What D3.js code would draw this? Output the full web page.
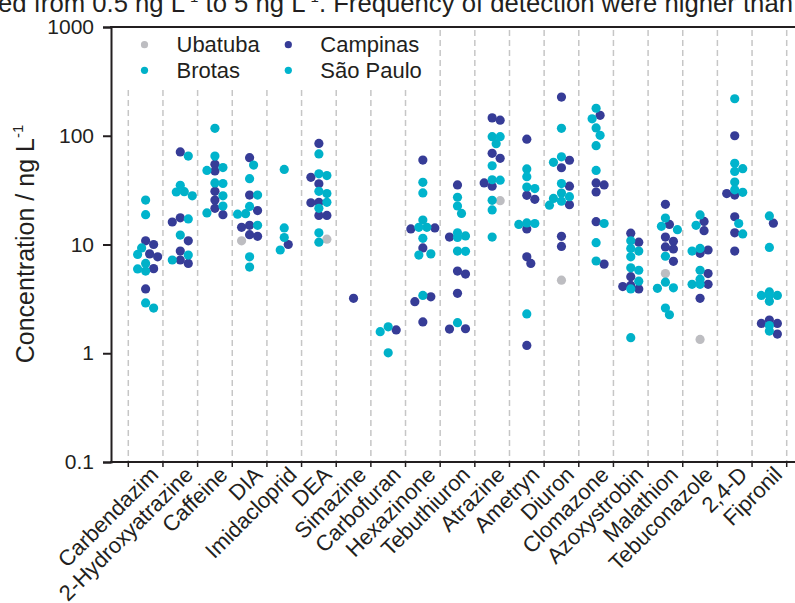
<!DOCTYPE html>
<html>
<head>
<meta charset="utf-8">
<script src="https://cdn.jsdelivr.net/npm/d3@7/dist/d3.min.js"></script>
<style>
  body { margin: 0; background: #fff; }
  svg { display: block; font-family: "Liberation Sans", Arial, sans-serif; }
</style>
</head>
<body>
<svg id="chart" width="795" height="603"></svg>
<script>
const compounds = ['Carbendazim', '2-Hydroxyatrazine', 'Caffeine', 'DIA', 'Imidacloprid', 'DEA', 'Simazine',
  'Carbofuran', 'Hexazinone', 'Tebuthiuron', 'Atrazine', 'Ametryn', 'Diuron', 'Clomazone', 'Azoxystrobin',
  'Malathion', 'Tebuconazole', '2,4-D', 'Fipronil'];

const yTicks = [0.1, 1, 10, 100, 1000];

// one inner list per compound, ng/L
const ubatuba = [[], [], [], [10.8], [], [11.2], [], [], [], [], [25.3], [], [4.7], [], [], [5.4], [1.34], [], []];

const campinas = [
  [10.8, 10.0, 8.2, 7.7, 6.0, 3.9],
  [71, 17.6, 16.1, 10.8, 8.7, 7.2, 6.7],
  [54.6, 47.4, 30.8, 25.6, 21.5, 18.8],
  [62.8, 28.5, 20.5, 15.0, 14.4, 12.3, 11.9],
  [10.0],
  [85, 41.5, 36.2, 24.4, 24.2, 18.5, 18.5],
  [3.2],
  [1.64],
  [59.8, 14.2, 13.9, 9.3, 3.3, 2.98, 1.94],
  [35.3, 11.7, 5.7, 5.35, 3.56, 1.68, 1.67],
  [146, 139, 69, 62, 36.8, 34.4],
  [93, 28.3, 26, 13.9, 7.7, 6.7, 1.18],
  [227, 59.5, 50.8, 34.4, 23.2, 11.9, 9.6],
  [154, 36.8, 35.3, 30.4, 16.2, 6.6],
  [12.7, 10.5, 5.06, 4.2, 4.1, 3.9],
  [23.4, 15.3, 11.7, 10.7, 9.5, 9.1, 7.0],
  [16.3, 13.4, 8.9, 8.3, 5.4, 4.3, 3.2],
  [100, 29.4, 28.5, 18, 12.8, 8.7],
  [15.7, 2.02, 1.88, 1.88, 1.5]
];

const brotas = [
  [25.6, 9.3, 6.7, 5.7, 2.6],
  [65, 30.6, 28, 12.2, 7.2],
  [117, 51, 36.8, 28, 19.5],
  [53.8, 28.5, 19.2, 15.0, 6.2],
  [49, 11.6],
  [68, 43, 29.4, 21.5, 10.5],
  [],
  [1.75, 1.01],
  [37.3, 16.8, 14.4, 8.2, 3.4],
  [27.2, 19.3, 12.0, 8.7, 1.91],
  [98, 84.5, 39.4, 25.5, 11.7],
  [49.5, 33.8, 15.8, 15.3],
  [117, 57, 29.7, 26.5, 23],
  [179, 118, 81, 15.6, 7.05],
  [10.8, 8.7, 6.1, 4.6, 1.39],
  [17.5, 13.7, 4.5, 3.95, 2.26],
  [18.7, 9.2, 5.8, 4.3],
  [219, 49.8, 37.5, 30.2, 12.5],
  [18.3, 3.66, 3.4, 3.0, 1.6]
];

const saoPaulo = [
  [18.8, 8.1, 5.96, 2.9],
  [35, 30.4, 17.2, 8.0],
  [65, 48, 36.4, 22.6],
  [40.3, 22.4, 19.0, 7.7],
  [14.2, 8.9],
  [44.7, 30.8, 24.4, 12.8],
  [],
  [1.58],
  [29.8, 14.4, 11.4, 8.0],
  [22.6, 12.8, 11.6, 8.65],
  [98, 53, 39, 20.8],
  [42, 32.7, 15.6, 2.3],
  [64, 36.3, 27.5, 25],
  [143, 101, 48, 10.4],
  [9.2, 7.7, 5.8, 3.9],
  [14.7, 7.8, 4.0, 2.6],
  [15.0, 8.7, 4.8, 4.3],
  [55.8, 47, 31.8, 15.6],
  [9.4, 3.4, 3.4, 1.8]
];

const series = [
  { name: 'Ubatuba', values: ubatuba, color: '#bdbdc1' },
  { name: 'Campinas', values: campinas, color: '#363c97' },
  { name: 'Brotas', values: brotas, color: '#00b1c8' },
  { name: 'São Paulo', values: saoPaulo, color: '#00b4cd' }
];

const ink = '#231f20';
const svg = d3.select('#chart');

const x = d3.scaleBand().domain(compounds).range([128.3, 786.7]).padding(0);
const y = d3.scaleLog().domain([0.1, 1000]).range([462, 27]);

// text of the page above the figure, cut by the crop
const pageText = svg.append('text')
  .attr('x', -2).attr('y', 12)
  .attr('font-size', 25.7).attr('fill', ink);
pageText.append('tspan').text('ed from 0.5 ng L');
pageText.append('tspan').attr('font-size', 15).attr('dy', -10).text('-1');
pageText.append('tspan').attr('dy', 10).text(' to 5 ng L');
pageText.append('tspan').attr('font-size', 15).attr('dy', -10).text('-1');
pageText.append('tspan').attr('dy', 10).text('. Frequency of detection were higher than');

// dashed separators between compounds
const bounds = compounds.map(c => x(c)).concat([x.range()[1]]);
svg.append('g').selectAll('line').data(bounds).join('line')
  .attr('x1', d => d).attr('x2', d => d)
  .attr('y1', 30).attr('y2', 462)
  .attr('stroke', '#c6c6c6').attr('stroke-width', 1.5)
  .attr('stroke-dasharray', '6,4');

// legend (white box hides the separators behind it)
svg.append('rect').attr('x', 113).attr('y', 29).attr('width', 318).attr('height', 57).attr('fill', '#fff');
const legendPos = [[144.5, 44.7], [288.3, 44.7], [144.5, 70.3], [288.3, 70.3]];
[series[0], series[1], series[2], series[3]].forEach((s, i) => {
  const [lx, ly] = legendPos[i];
  svg.append('circle').attr('cx', lx).attr('cy', ly).attr('r', 3.6).attr('fill', s.color);
  svg.append('text').attr('x', lx + 32).attr('y', ly + 7.5)
    .attr('font-size', 22).attr('fill', ink).text(s.name);
});

// simple dodge so points of one column don't sit on top of each other
const dodge = (ys, minDist, step, maxOff) => {
  const order = ys.map((v, i) => i).sort((a, b) => ys[a] - ys[b]);
  const placed = [];
  const offs = new Array(ys.length).fill(0);
  order.forEach(i => {
    for (let k = 0; ; k++) {
      const off = k === 0 ? 0 : (k % 2 ? 1 : -1) * Math.ceil(k / 2) * step;
      if (Math.abs(off) > maxOff) break;
      if (placed.every(p => Math.hypot(p.x - off, p.y - ys[i]) >= minDist)) {
        offs[i] = off;
        placed.push({ x: off, y: ys[i] });
        break;
      }
    }
  });
  return offs;
};

const points = [];
compounds.forEach((c, ci) => {
  const pts = [];
  series.forEach(s => s.values[ci].forEach(v => pts.push({ c, v, color: s.color })));
  const offs = dodge(pts.map(p => y(p.v)), 7.5, 4, 14);
  pts.forEach((p, i) => points.push({ ...p, dx: offs[i] }));
});

svg.append('g').selectAll('circle').data(points).join('circle')
  .attr('cx', d => x(d.c) + x.bandwidth() / 2 + d.dx)
  .attr('cy', d => y(d.v))
  .attr('r', 4.6)
  .attr('fill', d => d.color);

// frame: top and bottom lines run off the right edge of the crop
svg.append('line').attr('x1', 110).attr('x2', 800).attr('y1', 27).attr('y2', 27)
  .attr('stroke', ink).attr('stroke-width', 2);

const yAxis = svg.append('g').attr('transform', 'translate(111,0)')
  .call(d3.axisLeft(y).tickValues(yTicks).tickFormat(d3.format('~g')).tickSize(8).tickPadding(9));
yAxis.select('.domain').attr('stroke', ink).attr('stroke-width', 2);
yAxis.selectAll('.tick line').attr('stroke', ink).attr('stroke-width', 2);
yAxis.selectAll('.tick text').attr('font-size', 21).attr('fill', ink).attr('font-family', null);

const xAxis = svg.append('g').attr('transform', 'translate(0,462)');
xAxis.append('line').attr('x1', 110).attr('x2', 800)
  .attr('stroke', ink).attr('stroke-width', 2);
xAxis.selectAll('line.tk').data(bounds).join('line').attr('class', 'tk')
  .attr('x1', d => d).attr('x2', d => d).attr('y1', 0).attr('y2', 5)
  .attr('stroke', ink).attr('stroke-width', 1.5);
xAxis.selectAll('text').data(compounds).join('text')
  .attr('transform', d => `translate(${x(d) + x.bandwidth() / 2 + 14},14) rotate(-45)`)
  .attr('text-anchor', 'end')
  .attr('font-size', 22).attr('fill', ink)
  .text(d => d);

// y title
const title = svg.append('text')
  .attr('transform', 'translate(34,244) rotate(-90)')
  .attr('text-anchor', 'middle')
  .attr('font-size', 25).attr('fill', ink);
title.append('tspan').text('Concentration / ng L');
title.append('tspan').attr('font-size', 15).attr('dy', -11).text('-1');
</script>
</body>
</html>
